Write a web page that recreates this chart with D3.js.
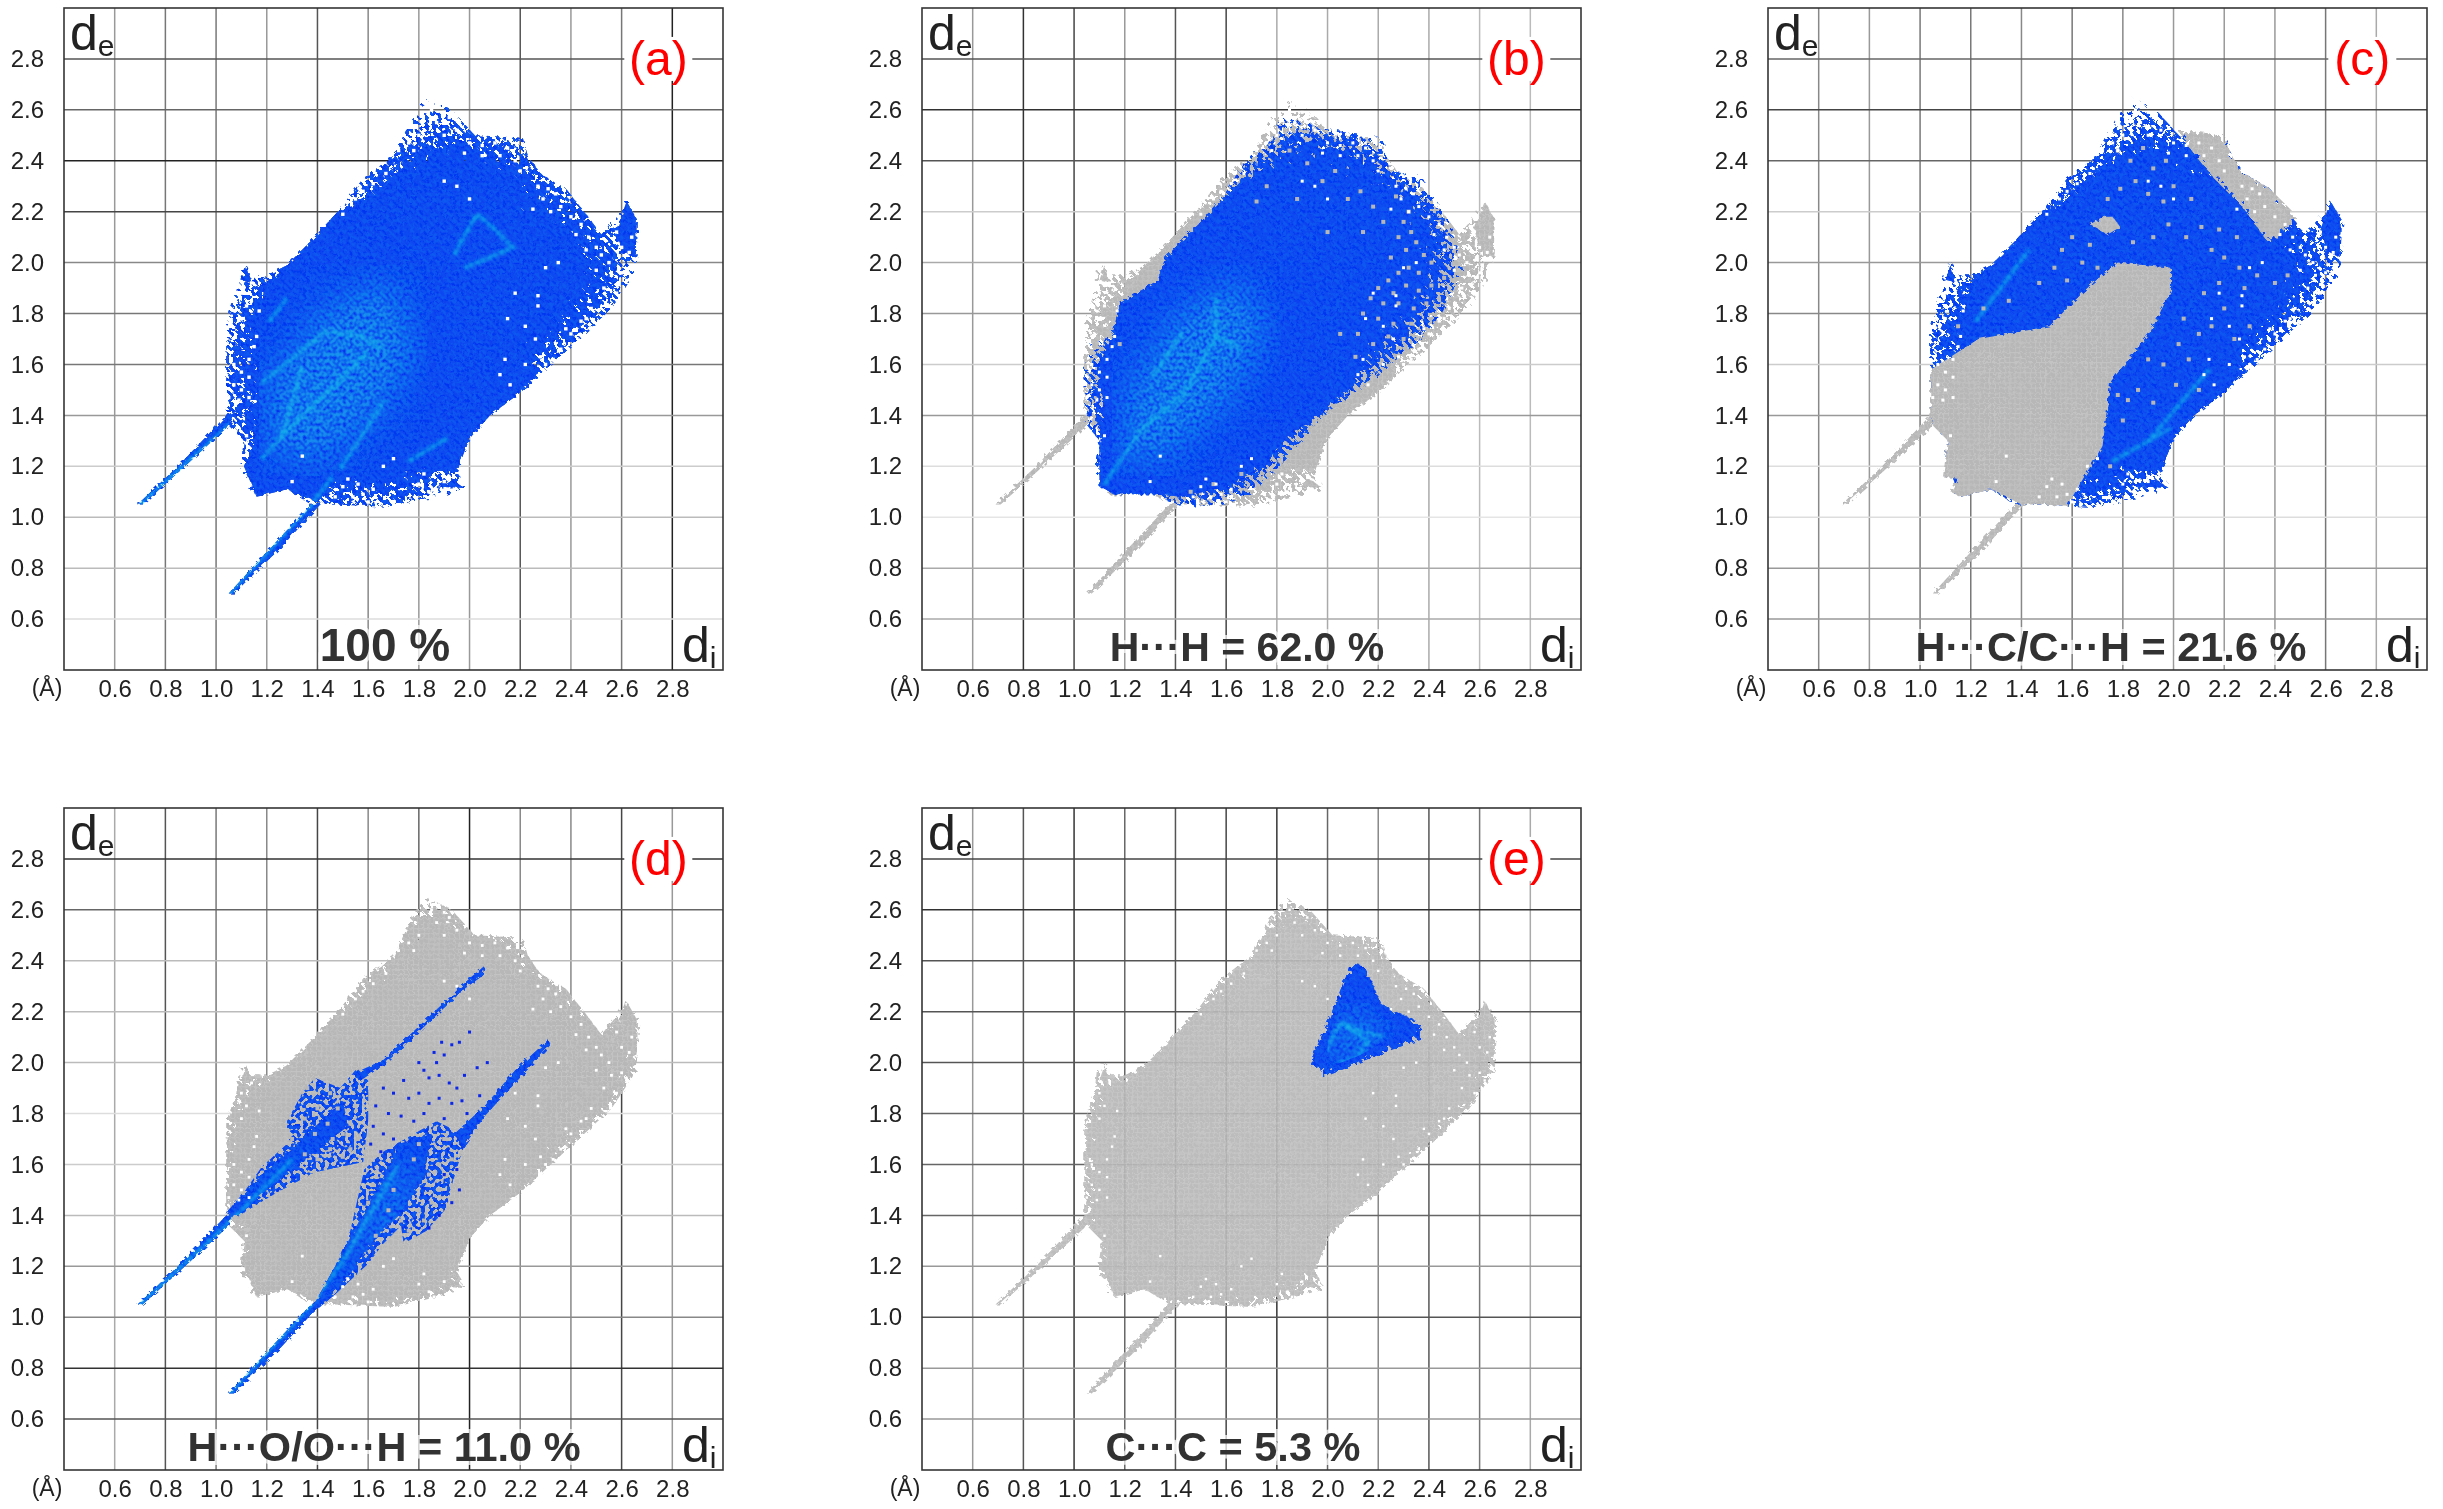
<!DOCTYPE html>
<html><head><meta charset="utf-8">
<script src="https://cdnjs.cloudflare.com/ajax/libs/d3/7.8.5/d3.min.js"></script>
<style>html,body{margin:0;background:#fff}svg{display:block}text{font-family:"Liberation Sans",Arial,sans-serif}</style>
</head><body><div id="chart"></div>
<script>
const tickValues=[0.6,0.8,1.0,1.2,1.4,1.6,1.8,2.0,2.2,2.4,2.6,2.8];
const panelNames=["(a)","(b)","(c)","(d)","(e)"];
const panelTitles=["100 %","H\u00b7\u00b7\u00b7H = 62.0 %","H\u00b7\u00b7\u00b7C/C\u00b7\u00b7\u00b7H = 21.6 %","H\u00b7\u00b7\u00b7O/O\u00b7\u00b7\u00b7H = 11.0 %","C\u00b7\u00b7\u00b7C = 5.3 %"];
const titleSizes=[46,41,41.5,41.5,41.5];
const gridXColors=[
 ["#999","#777","#777","#999","#555","#888","#999","#999","#555","#999","#777","#222"],
 ["#999","#333","#444","#999","#555","#444","#aaa","#aaa","#aaa","#aaa","#bbb","#bbb"],
 ["#888","#999","#777","#777","#888","#777","#888","#999","#999","#999","#777","#aaa"],
 ["#aaa","#555","#777","#888","#444","#888","#666","#222","#888","#888","#444","#999"],
 ["#999","#555","#333","#666","#555","#444","#333","#666","#888","#555","#777","#aaa"]];
const gridYColors=[
 ["#ddd","#bbb","#bbb","#ccc","#999","#777","#777","#888","#444","#222","#666","#555"],
 ["#aaa","#aaa","#e5e5e5","#ddd","#999","#ccc","#999","#aaa","#ccc","#555","#333","#555"],
 ["#999","#999","#ddd","#ddd","#999","#ccc","#888","#999","#ccc","#666","#444","#666"],
 ["#555","#333","#888","#999","#bbb","#ccc","#ddd","#bbb","#bbb","#bbb","#666","#333"],
 ["#999","#999","#555","#999","#666","#666","#666","#555","#555","#555","#333","#444"]];

// Outline of the whole fingerprint [di, de]
const cloudOutline=[[1.40,1.05],[1.47,1.05],[1.70,1.04],[1.79,1.06],[1.99,1.11],[1.95,1.18],[2.00,1.31],[2.08,1.40],[2.20,1.49],[2.31,1.59],[2.42,1.69],[2.56,1.82],[2.66,1.97],[2.67,2.17],[2.62,2.25],[2.57,2.17],[2.52,2.11],[2.46,2.19],[2.38,2.29],[2.28,2.35],[2.23,2.42],[2.21,2.49],[2.02,2.50],[1.93,2.60],[1.83,2.65],[1.79,2.60],[1.70,2.42],[1.58,2.33],[1.48,2.20],[1.37,2.08],[1.28,1.99],[1.20,1.95],[1.15,1.95],[1.12,2.01],[1.09,1.97],[1.08,1.88],[1.04,1.77],[1.04,1.64],[1.04,1.41],[1.05,1.36],[1.11,1.30],[1.09,1.16],[1.15,1.15],[1.12,1.10],[1.16,1.08],[1.28,1.11],[1.375,1.05]];
const spikeUpper=[[0.69,1.05],[0.85,1.20],[1.04,1.40],[1.08,1.42],[1.04,1.35],[0.86,1.185],[0.71,1.05]];
const spikeLower=[[1.05,0.70],[1.22,0.885],[1.375,1.05],[1.42,1.06],[1.25,0.875],[1.07,0.70]];
// Solid, gap-free parts of the surface
const coreCloud=[[[1.95,1.18],[2.00,1.31],[2.08,1.40],[2.20,1.49],[2.27,1.56],[2.20,1.70],[2.25,1.95],[2.25,2.10],[2.05,2.25],[1.85,2.38],[1.72,2.36],[1.55,2.22],[1.48,2.20],[1.37,2.08],[1.28,1.99],[1.20,1.91],[1.16,1.75],[1.17,1.45],[1.15,1.30],[1.11,1.20],[1.16,1.08],[1.28,1.11],[1.40,1.06],[1.47,1.14],[1.70,1.16],[1.80,1.20]],
 [[2.60,2.05],[2.58,2.13],[2.62,2.24],[2.66,2.17],[2.655,2.02]],
 [[1.10,1.93],[1.12,1.99],[1.14,1.92]],
 [[1.88,1.12],[1.98,1.115],[1.93,1.15]]];
// Hand-read white gaps of the surface, common to all panels
const cloudHoles=[[1.85,2.60],[1.88,2.62],[1.90,2.59],[1.92,2.57],[1.87,2.55],[1.95,2.52],[1.90,2.50],[1.80,2.50],[1.76,2.47],[1.72,2.44],[1.78,2.44],[2.00,2.47],[2.05,2.46],[2.10,2.47],[2.15,2.45],[1.98,2.43],[2.05,2.42],[2.12,2.42],[2.18,2.40],[2.20,2.36],[1.67,2.35],[1.62,2.31],[1.58,2.28],[1.55,2.25],[1.50,2.19],[1.90,2.32],[1.95,2.30],[2.00,2.25],[2.27,2.30],[2.31,2.29],[2.34,2.27],[2.29,2.25],[2.36,2.22],[2.32,2.20],[2.25,2.21],[2.40,2.18],[2.44,2.15],[2.42,2.11],[2.47,2.10],[2.50,2.06],[2.46,2.05],[2.52,2.03],[2.55,2.00],[2.50,1.97],[2.56,1.95],[2.60,1.96],[2.53,1.90],[2.58,1.88],[2.62,1.93],[2.60,2.06],[2.63,2.04],[2.64,2.10],[2.58,2.12],[2.48,1.82],[2.44,1.77],[2.40,1.72],[2.42,1.68],[2.36,1.66],[2.33,1.62],[2.30,1.60],[2.28,1.63],[2.38,1.74],[2.46,1.78],[2.27,1.87],[2.22,1.75],[2.15,1.78],[2.14,1.62],[2.12,1.56],[2.16,1.52],[2.22,1.60],[2.27,1.83],[2.26,1.70],[2.18,1.88],[2.35,2.00],[2.30,1.98],[1.10,1.88],[1.14,1.92],[1.12,1.83],[1.17,1.81],[1.10,1.78],[1.13,1.62],[1.07,1.60],[1.10,1.57],[1.13,1.55],[1.07,1.52],[1.10,1.50],[1.05,1.47],[1.09,1.46],[1.13,1.47],[1.12,1.32],[1.15,1.67],[1.16,1.71],[1.50,1.12],[1.54,1.08],[1.58,1.09],[1.62,1.11],[1.56,1.13],[1.47,1.08],[1.52,1.15],[1.60,1.06],[1.66,1.20],[1.70,1.23],[1.80,1.13],[1.84,1.10],[1.82,1.17],[1.90,1.14],[1.94,1.11],[1.86,1.08],[1.30,1.14],[1.34,1.24]];

// Blue regions, one list per panel
const blueA=[cloudOutline];
const blueB=[[[1.82,2.65],[1.84,2.58],[1.98,2.53],[2.22,2.49],[2.24,2.36],[2.37,2.34],[2.49,2.15],[2.54,1.96],[2.45,1.80],[2.36,1.69],[2.11,1.49],[1.98,1.40],[1.83,1.22],[1.71,1.10],[1.60,1.05],[1.43,1.04],[1.31,1.09],[1.16,1.09],[1.12,1.11],[1.13,1.15],[1.09,1.14],[1.08,1.20],[1.10,1.30],[1.045,1.37],[1.04,1.58],[1.065,1.70],[1.15,1.71],[1.18,1.84],[1.33,1.93],[1.36,2.02],[1.50,2.16],[1.61,2.29],[1.67,2.40],[1.79,2.49],[1.81,2.60]]];
const coreB=[[[1.10,1.12],[1.16,1.09],[1.31,1.09],[1.43,1.08],[1.60,1.12],[1.71,1.18],[1.83,1.30],[1.98,1.42],[2.11,1.52],[2.15,1.85],[2.10,2.10],[1.95,2.25],[1.80,2.35],[1.67,2.33],[1.50,2.16],[1.36,2.02],[1.33,1.93],[1.18,1.84],[1.15,1.71],[1.10,1.60],[1.12,1.40],[1.10,1.28]]];
const lensC=[[1.05,1.585],[1.23,1.70],[1.51,1.75],[1.67,1.91],[1.78,2.00],[1.99,1.98],[1.99,1.89],[1.91,1.73],[1.75,1.53],[1.72,1.28],[1.58,1.045],[1.47,1.05],[1.40,1.05],[1.28,1.11],[1.16,1.08],[1.12,1.10],[1.15,1.15],[1.09,1.16],[1.11,1.30],[1.05,1.36],[1.04,1.41],[1.04,1.58]];
const capC=[[1.91,2.60],[1.97,2.53],[2.20,2.50],[2.23,2.42],[2.28,2.35],[2.38,2.29],[2.49,2.18],[2.38,2.07],[2.27,2.22],[2.16,2.33],[2.03,2.49],[1.95,2.56]];
const starC=[[1.67,2.15],[1.72,2.18],[1.76,2.18],[1.79,2.14],[1.74,2.11]];
const blueD=[
 [[1.04,1.41],[1.11,1.49],[1.18,1.59],[1.28,1.68],[1.28,1.77],[1.34,1.88],[1.39,1.94],[1.49,1.90],[1.55,1.97],[1.60,1.93],[1.60,1.77],[1.58,1.61],[1.39,1.57],[1.24,1.49],[1.09,1.40]],
 [[1.375,1.03],[1.47,1.20],[1.53,1.34],[1.585,1.58],[1.66,1.65],[1.78,1.72],[1.87,1.77],[1.97,1.72],[2.04,1.80],[2.00,1.72],[1.97,1.65],[1.93,1.52],[1.91,1.43],[1.83,1.34],[1.74,1.29],[1.73,1.36],[1.66,1.29],[1.60,1.21],[1.47,1.09],[1.35,0.99]]];
const coreD=[
 [[1.04,1.41],[1.20,1.58],[1.36,1.72],[1.50,1.85],[1.52,1.75],[1.35,1.62],[1.20,1.50],[1.09,1.40]],
 [[1.375,1.03],[1.47,1.20],[1.55,1.35],[1.66,1.55],[1.72,1.68],[1.85,1.72],[1.82,1.55],[1.72,1.40],[1.62,1.30],[1.50,1.13],[1.35,0.99]],
 [[1.55,1.96],[1.66,2.01],[1.83,2.17],[2.00,2.33],[2.06,2.38],[2.05,2.34],[1.98,2.29],[1.83,2.15],[1.66,1.99],[1.57,1.93]],
 [[1.94,1.72],[2.06,1.83],[2.18,1.97],[2.31,2.09],[2.32,2.07],[2.18,1.92],[2.06,1.79],[1.97,1.66]],
 spikeUpper,spikeLower];
const blueE=[[[2.09,2.39],[2.15,2.38],[2.21,2.23],[2.37,2.155],[2.37,2.09],[2.28,2.06],[2.15,2.01],[1.98,1.94],[1.97,1.98],[1.92,1.98],[1.97,2.09],[2.03,2.23]]];
const coreE=[[[2.06,2.30],[2.14,2.30],[2.19,2.20],[2.30,2.13],[2.13,2.03],[2.00,1.98],[2.00,2.08]]];

// Brighter ridges
const streaksA=[[[0.70,1.05],[1.05,1.36],[1.14,1.44]],[[1.05,0.70],[1.375,1.05],[1.46,1.16]],[[1.94,2.03],[1.97,2.09],[2.03,2.19],[2.10,2.13],[2.17,2.06],[2.08,2.02],[1.98,1.98]],[[1.18,1.53],[1.30,1.62],[1.43,1.73],[1.57,1.71],[1.66,1.66]],[[1.57,1.86],[1.57,1.71]],[[1.26,1.32],[1.34,1.59]],[[1.18,1.23],[1.30,1.36],[1.45,1.50],[1.60,1.65]],[[1.49,1.19],[1.66,1.45]],[[1.76,1.22],[1.91,1.31]],[[1.21,1.77],[1.28,1.86]]];
const streaksB=[[[1.18,1.22],[1.27,1.35],[1.43,1.48],[1.56,1.71]],[[1.56,1.86],[1.56,1.71],[1.66,1.66]],[[1.31,1.55],[1.43,1.73]],[[1.12,1.13],[1.18,1.22]]];
const streaksC=[[[1.22,1.77],[1.43,2.05]],[[1.76,1.22],[1.99,1.35]],[[2.18,1.69],[2.24,1.69]],[[1.91,1.31],[2.14,1.58]]];
const streaksD=[[[0.70,1.05],[1.05,1.37],[1.30,1.62]],[[1.05,0.70],[1.375,1.05],[1.50,1.22],[1.72,1.60]]];
const streaksE=[[[1.97,2.00],[2.03,2.12],[2.06,2.16],[2.16,2.08],[2.10,2.00]],[[2.07,2.14],[2.22,2.10]],[[2.05,2.00],[2.20,2.03]]];
// Soft lighter areas
const glowA=[[1.20,1.25],[1.40,1.20],[1.65,1.40],[1.80,1.65],[1.70,1.95],[1.45,1.85],[1.20,1.55]];
const glowB=[[1.18,1.20],[1.35,1.22],[1.62,1.45],[1.78,1.75],[1.65,1.95],[1.40,1.80],[1.20,1.50]];
const glowD=[[1.15,1.47],[1.30,1.55],[1.42,1.75],[1.35,1.65],[1.20,1.55]];
const glowD2=[[1.38,1.08],[1.50,1.22],[1.72,1.60],[1.80,1.62],[1.72,1.35],[1.55,1.22]];
const glowE=[[1.98,2.02],[2.08,2.22],[2.25,2.12],[2.10,2.00]];

// Grey bins that show through the blue
const greyB=[[2.32,2.20],[2.30,2.16],[2.33,2.12],[2.28,2.10],[2.35,2.08],[2.31,2.05],[2.25,2.02],[2.38,2.03],[2.41,2.00],[2.36,1.96],[2.32,1.98],[2.28,1.96],[2.24,1.93],[2.20,1.90],[2.26,1.88],[2.31,1.91],[2.36,1.89],[2.41,1.91],[2.46,1.94],[2.44,1.86],[2.39,1.84],[2.34,1.82],[2.28,1.84],[2.22,1.84],[2.17,1.86],[2.14,1.80],[2.20,1.78],[2.26,1.76],[2.33,1.76],[2.30,1.70],[2.24,1.71],[2.12,1.72],[2.18,1.68],[2.11,1.63],[2.05,1.72],[2.08,2.25],[2.13,2.28],[2.18,2.22],[2.22,2.16],[2.27,2.26],[2.03,2.36],[1.98,2.32],[1.92,2.39],[1.85,2.44],[1.88,2.25],[1.76,2.30],[1.72,2.24],[2.00,2.12],[2.14,2.12],[1.14,1.78],[1.11,1.66],[1.18,1.68],[1.46,1.10],[1.55,1.13],[1.66,1.17]];
const greyC=[[1.78,2.44],[1.83,2.40],[1.88,2.45],[1.92,2.37],[1.97,2.40],[1.85,2.32],[1.79,2.29],[1.90,2.27],[1.96,2.24],[2.00,2.30],[2.07,2.25],[1.74,2.25],[1.67,2.07],[1.60,2.10],[1.56,2.05],[1.64,2.00],[1.53,1.98],[1.47,1.92],[1.58,1.93],[1.70,1.98],[1.84,2.08],[1.92,2.10],[1.98,2.15],[2.05,2.10],[2.11,2.14],[2.15,2.05],[2.18,2.13],[2.25,2.10],[2.20,2.02],[2.26,1.98],[2.33,1.95],[2.18,1.92],[2.12,1.88],[2.20,1.82],[2.15,1.75],[2.10,1.72],[2.04,1.78],[2.02,1.68],[2.06,1.62],[1.96,1.60],[1.90,1.62],[1.86,1.50],[1.82,1.46],[1.78,1.48],[1.80,1.38],[2.01,1.52],[2.10,1.50],[1.92,1.45],[2.30,1.75],[2.24,1.70],[2.28,1.90],[2.40,1.92],[2.45,1.95],[1.25,1.82],[1.35,1.85],[1.15,1.75],[1.70,1.72],[1.80,1.70],[1.75,1.20]];
const greyD=[[1.35,1.78],[1.40,1.82],[1.44,1.76],[1.39,1.72],[1.46,1.70],[1.50,1.72],[1.53,1.76],[1.55,1.83],[1.48,1.82],[1.45,1.66],[1.50,1.63],[1.40,1.62],[1.35,1.64],[1.30,1.70],[1.53,1.66],[1.56,1.70],[1.36,1.90],[1.45,1.88],[1.73,1.38],[1.80,1.42],[1.85,1.45],[1.88,1.50],[1.84,1.56],[1.88,1.60],[1.78,1.62],[1.93,1.62],[1.68,1.42],[1.63,1.32],[1.70,1.50],[1.90,1.70],[1.80,1.68],[1.62,1.52],[1.60,1.45],[1.76,1.34],[1.82,1.38]];
const sparseD=[[1.86,2.04],[1.90,2.03],[1.87,2.00],[1.93,2.07],[1.96,2.08],[1.89,2.08],[1.80,2.00],[1.82,1.97],[1.84,1.94],[1.88,1.95],[1.92,1.92],[1.95,1.90],[1.98,1.95],[2.03,1.98],[2.07,2.00],[2.00,2.12],[1.74,1.93],[1.70,1.88],[1.76,1.86],[1.80,1.88],[1.84,1.84],[1.88,1.86],[1.93,1.84],[1.97,1.85],[1.66,1.90],[1.63,1.83],[1.68,1.80],[1.73,1.79],[1.78,1.77],[1.82,1.80],[1.90,1.78],[1.62,1.75],[1.66,1.72],[1.70,1.70],[1.65,1.65],[1.61,1.68],[1.99,1.80],[2.04,1.87],[1.95,1.58],[1.96,1.50],[1.93,1.45],[1.90,1.56],[1.88,1.40],[1.84,1.35]];

const panelLefts=[64,922,1768,64,922];
const panelTops=[8,8,8,808,808];
const panelW=659, panelH=662;
const titleCenters=[385,1247,2111,384,1233];
const greyOpacity=[1,1,1,1,0.92];
const holeSizes=[3.4,3,3,2.8,2.4];
const panels=[
 {blue:blueA,core:[...coreCloud,spikeUpper,spikeLower],erode:"erA",streaks:streaksA,glow:[glowA],grey:[],sparse:[],ge:"erA"},
 {blue:blueB,core:coreB,erode:"erB",streaks:streaksB,glow:[glowB],grey:greyB,sparse:[],ge:"erA"},
 {blue:blueA,core:[...coreCloud],erode:"erA",streaks:streaksC,glow:[],grey:greyC,sparse:[],ge:"erA",patches:[lensC,starC],cap:[capC]},
 {blue:blueD,core:coreD,erode:"scatter",streaks:streaksD,glow:[glowD,glowD2],grey:greyD,sparse:sparseD,ge:"erE"},
 {blue:blueE,core:coreE,erode:"erD",streaks:streaksE,glow:[glowE],grey:[],sparse:[],ge:"erE"}];

const svg=d3.select("#chart").append("svg").attr("width",2443).attr("height",1509);
const defs=svg.append("defs");
function lattice(id,base,line){
 const p=defs.append("pattern").attr("id",id).attr("patternUnits","userSpaceOnUse").attr("width",5.1).attr("height",5.1);
 p.append("rect").attr("width",5.1).attr("height",5.1).attr("fill",base);
 p.append("path").attr("d","M0 .5H5.1M.5 0V5.1").attr("stroke",line).attr("stroke-width",1);
}
lattice("gr","#b7b7b7","#c3c3c3");
lattice("bl","#0432f2","#0840ee");
const box=f=>f.attr("x","-5%").attr("y","-5%").attr("width","110%").attr("height","110%").attr("color-interpolation-filters","sRGB");
function erodeFilter(id,sd,T,seed){
 const f=box(defs.append("filter").attr("id",id));
 f.append("feTurbulence").attr("type","fractalNoise").attr("baseFrequency",0.24).attr("numOctaves",1).attr("seed",seed).attr("result","n");
 f.append("feColorMatrix").attr("in","n").attr("type","matrix").attr("values","0 0 0 0 0 0 0 0 0 0 0 0 0 0 0 0 0 0 1 0").attr("result","na");
 f.append("feGaussianBlur").attr("in","SourceAlpha").attr("stdDeviation",sd).attr("result","ba");
 f.append("feComposite").attr("in","ba").attr("in2","na").attr("operator","arithmetic").attr("k1",0).attr("k2",1).attr("k3",1.2).attr("k4",-T).attr("result","sum");
 const t=f.append("feComponentTransfer").attr("in","sum").attr("result","thr");
 t.append("feFuncA").attr("type","linear").attr("slope",30).attr("intercept",0);
 f.append("feComposite").attr("in","SourceGraphic").attr("in2","thr").attr("operator","in").attr("result","er");
 f.append("feTurbulence").attr("type","fractalNoise").attr("baseFrequency",0.3).attr("numOctaves",1).attr("seed",3).attr("result","m");
 f.append("feDisplacementMap").attr("in","er").attr("in2","m").attr("scale",6);
}
erodeFilter("erA",40,1.08,4);
erodeFilter("erB",30,1.14,9);
erodeFilter("erD",7,1.04,7);
erodeFilter("erE",20,1.0,4);
// keeps most of the bins: the loose parts of the H...O wings
const sc=box(defs.append("filter").attr("id","scatter"));
sc.append("feTurbulence").attr("type","fractalNoise").attr("baseFrequency",0.24).attr("numOctaves",1).attr("seed",21).attr("result","n");
sc.append("feColorMatrix").attr("in","n").attr("type","matrix").attr("values","0 0 0 0 0 0 0 0 0 0 0 0 0 0 0 0 0 0 30 -14").attr("result","na");
sc.append("feComposite").attr("in","SourceGraphic").attr("in2","na").attr("operator","in");
const rg=box(defs.append("filter").attr("id","rough"));
rg.append("feTurbulence").attr("type","fractalNoise").attr("baseFrequency",0.3).attr("numOctaves",1).attr("seed",3).attr("result","m");
rg.append("feDisplacementMap").attr("in","SourceGraphic").attr("in2","m").attr("scale",6);
const mot=box(defs.append("filter").attr("id","mottle"));
mot.append("feTurbulence").attr("type","fractalNoise").attr("baseFrequency",0.3).attr("numOctaves",1).attr("seed",12).attr("result","n");
mot.append("feColorMatrix").attr("in","n").attr("type","matrix").attr("values","0 0 0 0 0 0 0 0 0 0 0 0 0 0 0 0 0 0 2.4 -0.6").attr("result","na");
mot.append("feComposite").attr("in","SourceGraphic").attr("in2","na").attr("operator","in");
defs.append("filter").attr("id","soft").attr("x","-30%").attr("y","-30%").attr("width","160%").attr("height","160%").append("feGaussianBlur").attr("stdDeviation",1.7);
defs.append("filter").attr("id","glow").attr("x","-40%").attr("y","-40%").attr("width","180%").attr("height","180%").append("feGaussianBlur").attr("stdDeviation",18);
defs.append("filter").attr("id","sh").append("feGaussianBlur").attr("stdDeviation",0.45);

panels.forEach((pn,i)=>{
 const L=panelLefts[i],T=panelTops[i];
 const x=d3.scaleLinear().domain([0.4,3.0]).range([L,L+panelW]);
 const y=d3.scaleLinear().domain([0.4,3.0]).range([T+panelH,T]);
 const line=d3.line().x(d=>x(d[0])).y(d=>y(d[1]));
 const closed=d=>line(d)+"Z";
 const g=svg.append("g").attr("filter","url(#sh)");
 g.append("g").selectAll("line").data(tickValues).join("line")
  .attr("x1",d=>x(d)).attr("x2",d=>x(d)).attr("y1",T).attr("y2",T+panelH)
  .attr("stroke",(d,k)=>gridXColors[i][k]).attr("stroke-width",1.5);
 g.append("g").selectAll("line").data(tickValues).join("line")
  .attr("y1",d=>y(d)).attr("y2",d=>y(d)).attr("x1",L).attr("x2",L+panelW)
  .attr("stroke",(d,k)=>gridYColors[i][k]).attr("stroke-width",1.5);
 const cloud=g.append("g");
 // grey surface
 const greyG=cloud.append("g").attr("opacity",greyOpacity[i]);
 greyG.append("path").attr("d",closed(cloudOutline)).attr("fill","url(#gr)").attr("filter","url(#"+pn.ge+")");
 greyG.append("g").attr("filter","url(#rough)").selectAll("path").data([...coreCloud,spikeUpper,spikeLower]).join("path").attr("d",closed).attr("fill","url(#gr)");
 // blue contribution: base plus lighter mottling, loose part and solid part
 const paint=(sel,polys)=>{
  sel.append("g").selectAll("path").data(polys).join("path").attr("d",closed).attr("fill","url(#bl)");
  sel.append("g").attr("filter","url(#mottle)").selectAll("path").data(polys).join("path").attr("d",closed).attr("fill","#0e64f0").attr("fill-opacity",0.75);
 };
 paint(cloud.append("g").attr("filter","url(#"+pn.erode+")"),pn.blue);
 paint(cloud.append("g").attr("filter","url(#rough)"),pn.core);
 const cid="clip"+i;
 defs.append("clipPath").attr("id",cid).selectAll("path").data(pn.core).join("path").attr("d",closed);
 const over=cloud.append("g").attr("clip-path","url(#"+cid+")");
 over.append("g").attr("filter","url(#mottle)").selectAll("path").data(pn.glow).join("path").attr("d",closed)
  .attr("fill","#18a4ec").attr("fill-opacity",0.8).attr("filter","url(#glow)");
 over.append("g").selectAll("path").data(pn.streaks).join("path").attr("d",line)
  .attr("fill","none").attr("stroke","#12c0ea").attr("stroke-width",4).attr("stroke-opacity",0.7).attr("stroke-dasharray","6 2 4 1").attr("filter","url(#soft)");
 if(pn.patches) cloud.append("g").attr("filter","url(#rough)").selectAll("path").data(pn.patches).join("path").attr("d",closed).attr("fill","url(#gr)");
 if(pn.cap) cloud.append("g").attr("filter","url(#erD)").selectAll("path").data(pn.cap).join("path").attr("d",closed).attr("fill","url(#gr)");
 const cell=(sel,data,col,s)=>sel.selectAll("rect.c").data(data).join("rect").attr("class","c")
  .attr("x",d=>x(d[0])-s/2).attr("y",d=>y(d[1])-s/2).attr("width",s).attr("height",s).attr("fill",col);
 cell(cloud.append("g"),pn.grey,"#b7b7b7",4);
 cell(cloud.append("g"),pn.sparse,"#0a28e8",3);
 cell(cloud.append("g"),cloudHoles,"#fff",holeSizes[i]);
 // frame
 g.append("rect").attr("x",L).attr("y",T).attr("width",panelW).attr("height",panelH).attr("fill","none").attr("stroke","#333").attr("stroke-width",1.6);
 // title
 g.append("text").attr("x",titleCenters[i]).attr("y",T+panelH-9).attr("text-anchor","middle")
  .attr("font-size",titleSizes[i]).attr("font-weight","bold").attr("fill","#333")
  .attr("stroke","#fff").attr("stroke-width",8).attr("paint-order","stroke").attr("stroke-opacity",0.7).text(panelTitles[i]);
 // panel letter
 g.append("rect").attr("x",x(2.8)-48).attr("y",y(2.8)-22).attr("width",68).attr("height",44).attr("fill","#fff");
 g.append("text").attr("x",x(2.8)-14).attr("y",y(2.8)+16).attr("text-anchor","middle").attr("font-size",48).attr("fill","#f00").text(panelNames[i]);
 // axis letters
 const de=g.append("text").attr("x",L+6).attr("y",T+42).attr("font-size",50).attr("fill","#222");
 de.append("tspan").text("d"); de.append("tspan").attr("font-size",30).attr("dy",6).text("e");
 const di=g.append("text").attr("x",L+panelW-41).attr("y",T+panelH-8).attr("font-size",50).attr("fill","#222");
 di.append("tspan").text("d"); di.append("tspan").attr("font-size",30).attr("dy",6).text("i");
 // tick labels via axes
 const ax=d3.axisBottom(x).tickValues(tickValues).tickSize(0).tickPadding(10).tickFormat(d3.format(".1f"));
 const ay=d3.axisLeft(y).tickValues(tickValues).tickSize(0).tickPadding(20).tickFormat(d3.format(".1f"));
 const gx=g.append("g").attr("transform",`translate(0,${T+panelH})`).call(ax);
 const gy=g.append("g").attr("transform",`translate(${L},0)`).call(ay);
 [gx,gy].forEach(a=>{a.select(".domain").remove();a.selectAll("text").attr("font-size",24).attr("fill","#222").attr("font-family","Liberation Sans");});
 g.append("text").attr("x",L-17).attr("y",T+panelH+26).attr("text-anchor","middle").attr("font-size",23).attr("fill","#222").text("(\u00c5)");
});
</script></body></html>
